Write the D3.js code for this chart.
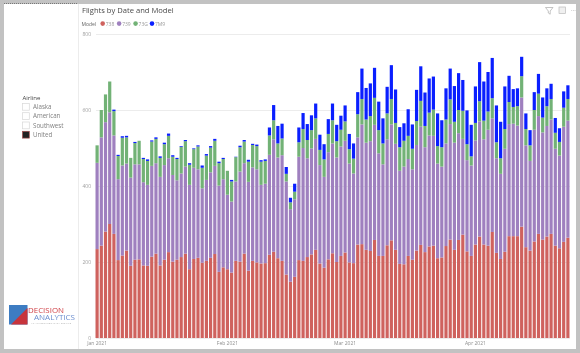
<!DOCTYPE html>
<html><head><meta charset="utf-8">
<script src="https://cdnjs.cloudflare.com/ajax/libs/d3/7.8.5/d3.min.js"></script>
<style>
html,body{margin:0;padding:0;background:#fff;overflow:hidden}
svg{display:block;filter:blur(0.35px)}
text{font-family:"Open Sans","Noto Sans",sans-serif}
.domain{display:none}
</style></head><body><svg id="c" width="580" height="353"></svg>
<script>
const models = ["738","739","73G","7M9"];
const modelColors = ["#cf625e","#9f80bf","#72b276","#0a1fff"];
const airlines = ["Alaska","American","Southwest","United"];
const yTicks = [0,200,400,600,800];
const monthTicks = ["2021-01-01","2021-02-01","2021-03-01","2021-04-01"];
const v738 = [234,243,280,300,274,205,217,230,190,206,207,191,190,214,222,191,206,226,201,206,213,222,181,208,211,198,203,211,221,174,186,181,172,203,201,222,177,203,199,196,197,219,227,210,203,167,148,161,205,203,213,220,232,196,185,207,223,200,216,225,199,197,246,247,232,229,258,216,216,244,257,232,195,194,216,206,230,245,226,241,243,210,212,242,259,232,258,272,228,216,246,267,246,243,279,224,208,227,268,268,268,293,239,230,254,274,259,267,274,243,236,253,264];
const v739 = [227,285,288,294,259,213,237,229,232,251,250,219,213,239,238,233,249,247,228,209,220,229,222,240,233,196,213,225,232,227,232,196,187,209,237,238,234,246,245,207,209,263,296,265,278,245,191,204,272,297,260,279,292,259,239,282,289,275,288,294,260,236,282,315,282,289,303,270,241,279,305,279,245,257,255,238,278,311,276,292,289,249,239,270,304,282,281,252,240,238,274,303,277,305,299,249,224,271,295,296,291,340,268,236,294,310,282,291,301,255,244,303,308];
const v73G = [46,72,73,81,64,61,73,69,52,56,62,61,63,64,64,50,55,59,48,56,70,67,53,49,60,54,64,65,66,59,53,63,53,64,64,57,53,59,61,61,60,51,50,37,44,20,18,20,38,50,48,48,54,40,46,48,61,43,44,51,38,39,61,67,61,66,71,61,55,68,67,55,62,68,61,54,63,68,56,60,69,46,51,63,65,55,61,74,42,24,46,53,49,48,53,42,41,52,58,44,51,56,43,41,52,59,39,52,54,42,36,50,57];
const v7M9 = [0,0,0,0,4,3,4,4,0,3,0,3,4,3,4,4,4,6,4,3,2,3,4,2,3,6,4,4,5,4,3,0,4,1,4,4,5,3,4,4,4,21,40,46,39,18,12,21,39,42,42,39,39,40,40,39,44,43,37,42,40,40,58,80,83,86,79,75,66,70,89,88,53,46,70,64,82,91,88,90,87,86,71,82,81,94,97,81,89,83,96,103,103,104,106,97,96,112,69,47,47,51,41,40,47,52,53,47,40,39,36,43,36];

const seriesValues = [v738,v739,v73G,v7M9];
const parse = d3.timeParse("%Y-%m-%d");
const start = parse("2021-01-01");
const dates = d3.range(v738.length).map(i => d3.timeDay.offset(start, i));
const rows = dates.map((d,i) => {
  const r = {date:d};
  models.forEach((m,k) => r[m] = seriesValues[k][i]);
  return r;
});
const svg = d3.select("#c");

// page frame
svg.append("rect").attr("width",580).attr("height",353).attr("fill","#c2c2c2");
svg.append("rect").attr("x",4).attr("y",4).attr("width",572).attr("height",345).attr("fill","#fff");
svg.append("line").attr("x1",4).attr("x2",78).attr("y1",3.5).attr("y2",3.5).attr("stroke","#777").attr("stroke-dasharray","1 1");
svg.append("line").attr("x1",78.5).attr("x2",78.5).attr("y1",4).attr("y2",349).attr("stroke","#ececec");

const x = d3.scaleBand().domain(dates).range([95,570]).paddingInner(0.24).paddingOuter(0.12);
const y = d3.scaleLinear().domain([0,800]).range([338,34]);

// y axis + gridlines
const gy = svg.append("g").attr("transform","translate(96,0)")
  .call(d3.axisLeft(y).tickValues(yTicks).tickSize(-474).tickPadding(5));
gy.selectAll(".tick line").attr("stroke","#ececec");
gy.selectAll(".tick text").attr("fill","#a0a0a0").attr("font-size",5);

// stacked bars
const stack = d3.stack().keys(models)(rows);
svg.append("g").selectAll("g").data(stack).join("g")
  .attr("fill",(d,i)=>modelColors[i])
  .selectAll("rect").data(d=>d).join("rect")
  .attr("x",d=>x(d.data.date))
  .attr("width",x.bandwidth())
  .attr("y",d=>y(d[1]))
  .attr("height",d=>y(d[0])-y(d[1]));

// x axis
const gx = svg.append("g").attr("transform","translate(0,338)")
  .call(d3.axisBottom(x)
    .tickValues(monthTicks.map(s=>dates.find(d=>+d===+parse(s))))
    .tickFormat(d3.timeFormat("%b %Y")).tickSize(0).tickPadding(3));
gx.selectAll(".tick text").attr("fill","#8e8e8e").attr("font-size",5);

// title
svg.append("text").attr("x",82).attr("y",13).attr("font-size",7.6).attr("fill","#4a4a4a").text("Flights by Date and Model");

// legend
svg.append("text").attr("x",81.5).attr("y",25.5).attr("font-size",5).attr("fill","#666").text("Model");
const legendX = d3.scalePoint().domain(models).range([102.7,152]);
const lg = svg.append("g").selectAll("g").data(models).join("g")
  .attr("transform",d=>`translate(${legendX(d)},23.6)`);
lg.append("circle").attr("r",2.3).attr("fill",(d,i)=>modelColors[i]);
lg.append("text").attr("x",3).attr("y",1.9).attr("font-size",5).attr("fill","#999").text(d=>d);

// slicer
svg.append("text").attr("x",22.5).attr("y",100).attr("font-size",6).attr("fill","#444").text("Airline");
const slicerY = d3.scalePoint().domain(airlines).range([106.8,134.7]);
const sl = svg.append("g").selectAll("g").data(airlines).join("g")
  .attr("transform",d=>`translate(0,${slicerY(d)})`);
sl.append("rect").attr("x",22.5).attr("y",-3.4).attr("width",6.8).attr("height",6.8)
  .attr("fill",d=>d==="United"?"#222":"#fff")
  .attr("stroke",d=>d==="United"?"#a34a4a":"#d8d8d8").attr("stroke-width",.7);
sl.append("text").attr("x",33).attr("y",2.3).attr("font-size",6.2).attr("fill","#808080").text(d=>d);

// visual header icons
svg.append("path").attr("d","M545.5 7.5H553L550.2 11V14.2L548.3 13V11Z").attr("fill","none").attr("stroke","#aaa").attr("stroke-width",.7);
svg.append("rect").attr("x",559).attr("y",7).attr("width",6.5).attr("height",6.5).attr("fill","#f0f0f0").attr("stroke","#bbb").attr("stroke-width",.7);
svg.append("text").attr("x",571).attr("y",11).attr("font-size",6).attr("fill","#999").text("...");

// logo
svg.append("rect").attr("x",9).attr("y",305).attr("width",18.5).attr("height",19.5).attr("fill","#3d7cc2");
svg.append("path").attr("d","M27.5 308L27.5 324.5H11Z").attr("fill","#c7343c");
svg.append("text").attr("x",28).attr("y",312.6).attr("font-size",7.6).attr("fill","#cf3f45").attr("textLength",36).attr("lengthAdjust","spacingAndGlyphs").text("DECISION");
svg.append("text").attr("x",34).attr("y",320.4).attr("font-size",7.6).attr("fill","#6d8fd0").attr("textLength",41).attr("lengthAdjust","spacingAndGlyphs").text("ANALYTICS");
svg.append("text").attr("x",31).attr("y",323.6).attr("font-size",2).attr("fill","#999").attr("textLength",40).text("AN ANYDECISION DATA SERVICE");
</script></body></html>
